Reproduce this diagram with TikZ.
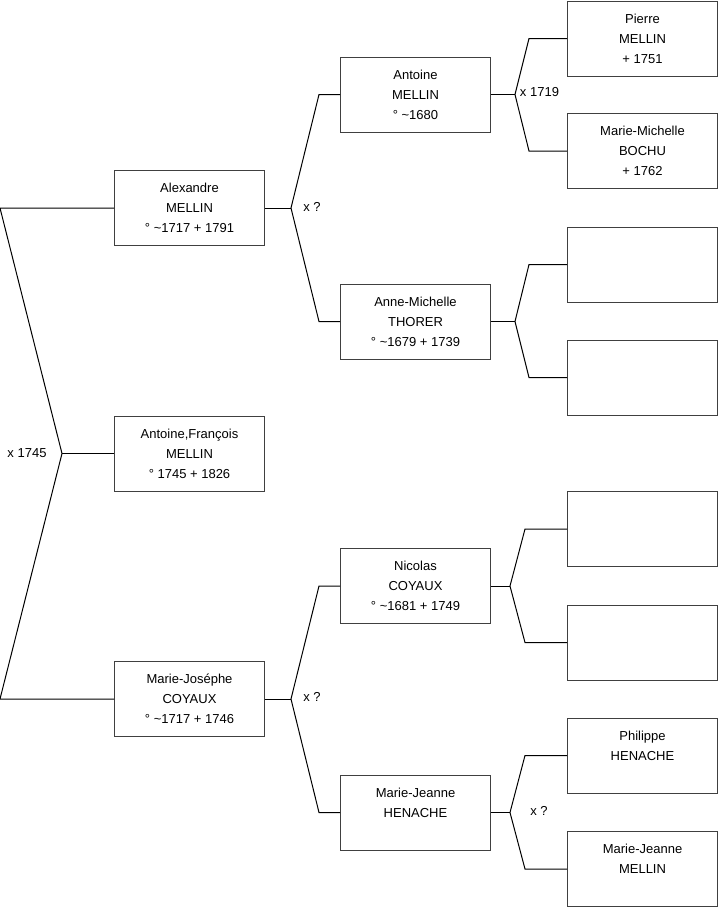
\documentclass[tikz,border=0pt]{standalone}
\usepackage{fontspec}
\setmainfont{Liberation Sans}
\usetikzlibrary{calc}
\begin{document}
\begin{tikzpicture}[x=0.75pt, y=-0.75pt,
    person/.style={draw=black!75, line width=0.75pt, minimum width=112.5pt,
      minimum height=56.25pt, inner sep=0pt, align=center,
      font=\fontsize{9.75}{15}\selectfont},
    union/.style={font=\fontsize{9.75}{15}\selectfont},
    link/.style={line width=0.75pt}]
  \useasboundingbox (0,0) rectangle (719,908);
  % children and parents
  \node[person] (alexandre) at (189.5,208) {Alexandre\\MELLIN\\° \textasciitilde1717 + 1791};
  \node[person] (antfr) at (189.5,453.5) {Antoine,François\\MELLIN\\° 1745 + 1826};
  \node[person] (mariejo) at (189.5,699) {Marie-Joséphe\\COYAUX\\° \textasciitilde1717 + 1746};
  % grandparents
  \node[person] (antoine) at (415.5,94.5) {Antoine\\MELLIN\\° \textasciitilde1680};
  \node[person] (anne) at (415.5,321.5) {Anne-Michelle\\THORER\\° \textasciitilde1679 + 1739};
  \node[person] (nicolas) at (415.5,586) {Nicolas\\COYAUX\\° \textasciitilde1681 + 1749};
  \node[person] (mjeanne) at (415.5,812.5) {Marie-Jeanne\\HENACHE\\\mbox{}};
  % great-grandparents
  \node[person] (pierre) at (642.5,38.5) {Pierre\\MELLIN\\+ 1751};
  \node[person] (mmichelle) at (642.5,151) {Marie-Michelle\\BOCHU\\+ 1762};
  \node[person] (e1) at (642.5,264.5) {};
  \node[person] (e2) at (642.5,377.5) {};
  \node[person] (e3) at (642.5,529) {};
  \node[person] (e4) at (642.5,642.5) {};
  \node[person] (philippe) at (642.5,755.5) {Philippe\\HENACHE\\\mbox{}};
  \node[person] (mjmellin) at (642.5,869) {Marie-Jeanne\\MELLIN\\\mbox{}};
  % outer bracket
  \coordinate (j0) at (62,453.5);
  \coordinate (j0t) at (0,208);
  \coordinate (j0b) at (0,699);
  \draw[link] (alexandre.west) -- (j0t) -- (j0) -- (j0b) -- (mariejo.west);
  \draw[link] (j0) -- (antfr.west);
  % brackets to the parents
  \foreach \p/\fa/\mo/\j/\s in {alexandre/antoine/anne/26/21,
      mariejo/nicolas/mjeanne/26/21,
      antoine/pierre/mmichelle/24/38,
      anne/e1/e2/24/38,
      nicolas/e3/e4/19/42,
      mjeanne/philippe/mjmellin/19/42}{
    \coordinate (j-\p) at ($(\p.east)+(\j,0)$);
    \draw[link] (\p.east) -- (j-\p);
    \draw[link] (\fa.west) -- ++(-\s,0) -- (j-\p)
      -- ($(\mo.west)+(-\s,0)$) -- (\mo.west);
  }
  % marriages
  \node[union] (u0) at (27,453) {x 1745};
  \node[union] (u1) at (312,207) {x ?};
  \node[union] (u2) at (312,697) {x ?};
  \node[union] (u3) at (539.5,92) {x 1719};
  \node[union] (u4) at (539,811) {x ?};
\end{tikzpicture}
\end{document}
